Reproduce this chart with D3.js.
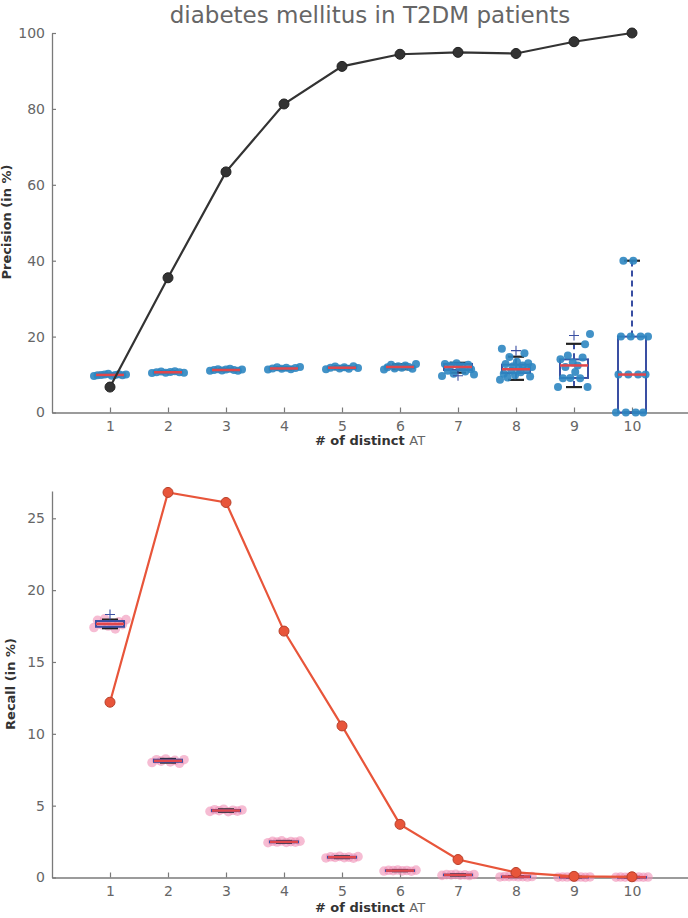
<!DOCTYPE html>
<html>
<head>
<meta charset="UTF-8">
<style>
  body { margin: 0; background: #fff; }
  text { font-family: "DejaVu Sans", sans-serif; }
</style>
</head>
<body>
<script src="https://d3js.org/d3.v7.min.js"></script>
<script>
// ---- data ----
var groups = [1, 2, 3, 4, 5, 6, 7, 8, 9, 10];

var precisionLine = [6.7, 35.5, 63.4, 81.3, 91.2, 94.4, 94.9, 94.6, 97.7, 100];
var recallLine = [12.2, 26.8, 26.1, 17.15, 10.55, 3.7, 1.25, 0.35, 0.08, 0.05];

// box stats: [lowWhisker, q1, median, q3, highWhisker]
var precisionBox = [
  [9.6, 9.8, 9.9, 10.1, 10.2],
  [10.4, 10.5, 10.6, 10.8, 10.9],
  [11.0, 11.1, 11.2, 11.3, 11.5],
  [11.3, 11.5, 11.6, 11.8, 11.9],
  [11.4, 11.6, 11.8, 12.0, 12.2],
  [11.4, 11.7, 12.0, 12.3, 12.7],
  [10.5, 11.2, 12.0, 12.8, 13.1],
  [8.6, 10.4, 11.4, 12.6, 14.7],
  [6.7, 9.1, 12.4, 14.0, 18.1],
  [0, 0, 10, 20, 40]
];
var precisionOutliers = [[], [], [], [], [], [], [9.7], [16.3], [20.3], []];
var precisionPoints = [
  [9.6, 9.8, 9.9, 10.0, 10.2, 9.7, 9.9, 10.1, 9.8, 10.0],
  [10.4, 10.6, 10.8, 10.5, 10.7, 10.9, 10.6, 10.5],
  [11.0, 11.2, 11.4, 11.1, 11.3, 11.5, 11.2, 11.0, 11.3],
  [11.3, 11.6, 11.9, 11.5, 11.8, 11.4, 11.7, 12.0],
  [11.4, 11.8, 12.1, 11.6, 11.9, 11.5, 12.2, 11.7],
  [11.3, 11.9, 12.6, 11.6, 12.2, 11.8, 12.4, 12.0, 11.5, 12.8],
  [9.6, 12.8, 11.0, 12.4, 10.2, 13.0, 11.8, 12.2, 10.8, 12.6, 11.4, 10.0],
  [8.6, 16.8, 10.2, 12.8, 9.2, 14.6, 11.0, 12.2, 9.8, 13.4, 11.6, 10.6, 12.4, 15.6, 11.2, 13.0, 9.5, 12.0],
  [6.7, 14.0, 9.0, 12.0, 15.0, 9.1, 13.2, 10.7, 12.4, 9.0, 14.5, 18.0, 6.7, 20.7],
  [0, 10, 20, 40, 0, 10, 20, 40, 0, 10, 20, 0, 10, 20]
];

var recallBox = [
  [17.35, 17.45, 17.65, 17.85, 17.95],
  [8.0, 8.05, 8.12, 8.2, 8.25],
  [4.58, 4.62, 4.66, 4.7, 4.74],
  [2.42, 2.45, 2.48, 2.51, 2.54],
  [1.35, 1.38, 1.41, 1.44, 1.47],
  [0.44, 0.46, 0.48, 0.5, 0.52],
  [0.14, 0.16, 0.18, 0.2, 0.22],
  [0.03, 0.05, 0.06, 0.07, 0.09],
  [0.01, 0.02, 0.03, 0.04, 0.05],
  [0.01, 0.02, 0.02, 0.03, 0.04]
];
var recallOutliers = [[18.3], [], [], [], [], [], [], [], [], []];
var recallPoints = [
  [17.4, 17.9, 17.6, 18.0, 17.5, 17.7, 17.3, 17.8, 17.6, 17.95],
  [8.0, 8.2, 8.1, 8.25, 8.05, 8.15, 7.95, 8.2],
  [4.6, 4.72, 4.65, 4.75, 4.58, 4.68, 4.62, 4.7],
  [2.42, 2.52, 2.47, 2.55, 2.44, 2.5, 2.46, 2.53],
  [1.36, 1.44, 1.4, 1.47, 1.38, 1.42, 1.35, 1.45],
  [0.45, 0.5, 0.48, 0.52, 0.46, 0.49, 0.44, 0.51],
  [0.15, 0.2, 0.18, 0.22, 0.16, 0.19, 0.14, 0.21],
  [0.04, 0.07, 0.06, 0.08, 0.05, 0.06, 0.03, 0.07],
  [0.02, 0.04, 0.03, 0.05, 0.02, 0.03, 0.01, 0.04],
  [0.02, 0.03, 0.02, 0.04, 0.01, 0.03, 0.02, 0.03]
];

var precisionTicks = [0, 20, 40, 60, 80, 100];
var recallTicks = [0, 5, 10, 15, 20, 25];

// ---- layout ----
var W = 688, H = 918;
var svg = d3.select("body").append("svg")
  .attr("width", W).attr("height", H);

var x = d3.scaleLinear().domain([0, 11]).range([52, 690]);

var axisColor = "#7a7a7a", tickText = "#666";

function panel(opt) {
  var y = d3.scaleLinear().domain(opt.yDomain).range(opt.yRange);
  var g = svg.append("g");

  // axes
  var yAxis = d3.axisLeft(y).tickValues(opt.ticks).tickSize(-4).tickPadding(7).tickSizeOuter(0);
  var gy = g.append("g").attr("transform", "translate(" + x(0) + ",0)").call(yAxis);
  var xAxis = d3.axisBottom(x).tickValues(groups).tickSize(-5).tickPadding(9).tickSizeOuter(0);
  var gx = g.append("g").attr("transform", "translate(0," + opt.yRange[0] + ")").call(xAxis);
  [gx, gy].forEach(function(a) {
    a.select(".domain").attr("stroke", axisColor).attr("stroke-width", 1.3);
    a.selectAll(".tick line").attr("stroke", axisColor).attr("stroke-width", 1.2);
    a.selectAll(".tick text").attr("fill", tickText).attr("font-size", 14)
      .attr("font-family", "DejaVu Sans");
  });

  // axis labels
  g.append("text")
    .attr("transform", "translate(" + opt.yLabelX + "," + opt.yLabelY + ") rotate(-90)")
    .attr("text-anchor", "middle").attr("font-size", 13).attr("font-weight", "bold")
    .attr("fill", "#333").text(opt.yLabel);
  var xl = g.append("text").attr("x", 370).attr("y", opt.xLabelY)
    .attr("text-anchor", "middle").attr("font-size", 13);
  xl.append("tspan").attr("font-weight", "bold").attr("fill", "#333").text("# of distinct ");
  xl.append("tspan").attr("fill", "#666").text("AT");

  // box plots
  var half = 14, spread = 16, cap = 8;
  groups.forEach(function(k, i) {
    var cx = x(k), b = opt.box[i], pts = opt.points[i], n = pts.length;
    var bg = g.append("g");

    function drawPoints() {
      bg.selectAll("circle.pt").data(pts).enter().append("circle")
        .attr("class", "pt")
        .attr("cx", function(d, j) {
          var f = n > 1 ? j / (n - 1) - 0.5 : 0;
          return cx + f * 2 * spread;
        })
        .attr("cy", function(d) { return y(d); })
        .attr("r", opt.pointR)
        .attr("fill", opt.pointColor)
        .attr("fill-opacity", opt.pointOpacity);
    }
    if (opt.pointsBelow) drawPoints();

    // whiskers (dashed)
    bg.append("line").attr("x1", cx).attr("x2", cx)
      .attr("y1", y(b[0])).attr("y2", y(b[1]))
      .attr("stroke", "#3a4fa3").attr("stroke-width", 2).attr("stroke-dasharray", "6,4");
    bg.append("line").attr("x1", cx).attr("x2", cx)
      .attr("y1", y(b[3])).attr("y2", y(b[4]))
      .attr("stroke", "#3a4fa3").attr("stroke-width", 2).attr("stroke-dasharray", "6,4");
    // caps
    [b[0], b[4]].forEach(function(v) {
      bg.append("line").attr("x1", cx - cap).attr("x2", cx + cap)
        .attr("y1", y(v)).attr("y2", y(v))
        .attr("stroke", "#222").attr("stroke-width", 2.2);
    });
    // box
    bg.append("rect").attr("x", cx - half).attr("width", 2 * half)
      .attr("y", y(b[3])).attr("height", Math.max(y(b[1]) - y(b[3]), 0.5))
      .attr("fill", "none").attr("stroke", "#3a4fa3").attr("stroke-width", 2);

    if (!opt.pointsBelow) drawPoints();

    // median
    bg.append("line").attr("x1", cx - half).attr("x2", cx + half)
      .attr("y1", y(b[2])).attr("y2", y(b[2]))
      .attr("stroke", "#e0474c").attr("stroke-width", 2.5);

    // outliers
    opt.outliers[i].forEach(function(v) {
      bg.append("path").attr("d", "M" + (cx - 5) + "," + y(v) + "h10M" + cx + "," + (y(v) - 5) + "v10")
        .attr("stroke", "#3a4fa3").attr("stroke-width", 1.1);
    });
  });

  // line
  var line = d3.line().x(function(d, i) { return x(groups[i]); }).y(function(d) { return y(d); });
  g.append("path").datum(opt.line).attr("d", line)
    .attr("fill", "none").attr("stroke", opt.lineColor).attr("stroke-width", 2.2);
  g.selectAll("circle.mk").data(opt.line).enter().append("circle")
    .attr("class", "mk")
    .attr("cx", function(d, i) { return x(groups[i]); })
    .attr("cy", function(d) { return y(d); })
    .attr("r", 5)
    .attr("fill", opt.lineColor)
    .attr("stroke", opt.markerStroke).attr("stroke-width", 1);
}

// title
svg.append("text").attr("x", 370).attr("y", 23).attr("text-anchor", "middle")
  .attr("font-size", 23).attr("fill", "#666").text("diabetes mellitus in T2DM patients");

panel({
  yDomain: [0, 100], yRange: [412.5, 33], ticks: precisionTicks,
  yLabel: "Precision (in %)", yLabelX: 11, yLabelY: 222, xLabelY: 445,
  box: precisionBox, outliers: precisionOutliers, points: precisionPoints,
  pointColor: "#2e86c1", pointOpacity: 0.9, pointR: 4, pointsBelow: false,
  line: precisionLine, lineColor: "#333", markerStroke: "#222"
});

panel({
  yDomain: [0, 26.9], yRange: [877.5, 491], ticks: recallTicks,
  yLabel: "Recall (in %)", yLabelX: 15, yLabelY: 684, xLabelY: 912,
  box: recallBox, outliers: recallOutliers, points: recallPoints,
  pointColor: "#f08fb5", pointOpacity: 0.6, pointR: 4.8, pointsBelow: true,
  line: recallLine, lineColor: "#e8553a", markerStroke: "#b8402a"
});
</script>
</body>
</html>
